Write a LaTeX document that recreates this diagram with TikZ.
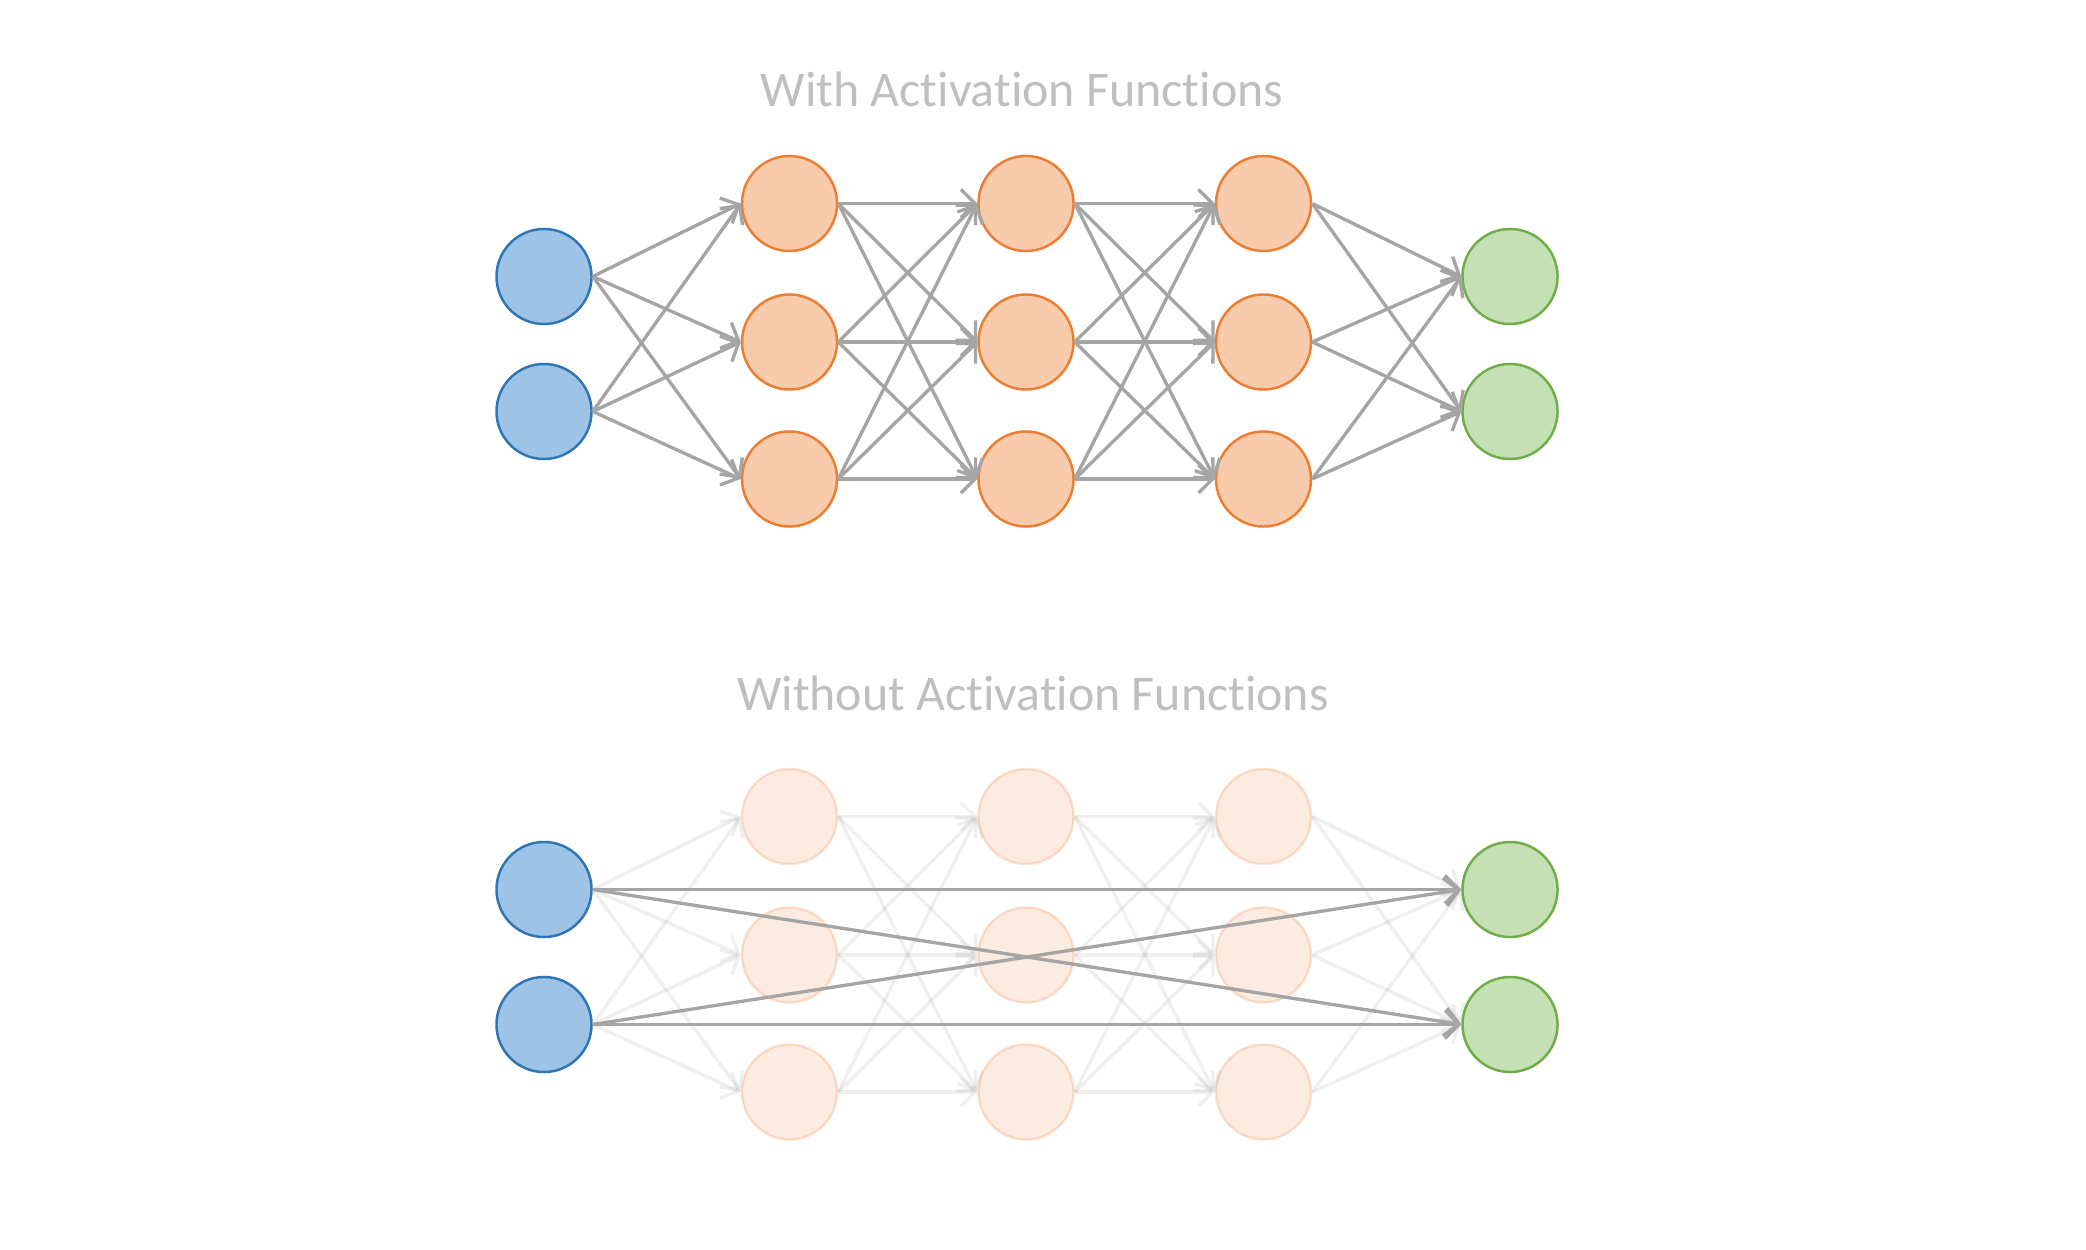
\documentclass[tikz,border=0pt]{standalone}
\usepackage{fontspec}
\newfontfamily\titlefont[Ligatures=NoCommon]{Carlito}
\usetikzlibrary{arrows.meta,positioning}
\definecolor{inblue}{HTML}{9DC3E6}
\definecolor{inblueline}{HTML}{2E75B6}
\definecolor{hidorange}{HTML}{F8CBAD}
\definecolor{hidorangeline}{HTML}{ED7D31}
\definecolor{outgreen}{HTML}{C5E0B4}
\definecolor{outgreenline}{HTML}{70AD47}
\definecolor{edgegray}{HTML}{A5A5A5}
\definecolor{titlegray}{HTML}{BFBFBF}
\newcommand{\nolig}{\kern0pt}
\tikzset{
    neuron/.style={circle, draw, minimum size=0.95cm, inner sep=0pt, line width=0.7pt},
    input/.style={neuron, fill=inblue, draw=inblueline},
    hidden/.style={neuron, fill=hidorange, draw=hidorangeline},
    output/.style={neuron, fill=outgreen, draw=outgreenline},
    faded/.style={fill opacity=0.38, draw opacity=0.22},
    line/.style={draw=edgegray, -{Straight Barb[length=4pt,width=8pt]}, line width=0.95pt},
    fadedline/.style={line, draw opacity=0.18},
    title/.style={font=\titlefont\fontsize{14.2}{17}\selectfont, text=titlegray, anchor=base}
}
\begin{document}
\begin{tikzpicture}[x=0.01cm, y=-0.01cm]
    \useasboundingbox (0,0) rectangle (2086,1249);

    % with activation functions
    \node [title] (title1) at (1022,107) {With Activat\nolig ion Funct\nolig ions};
    \foreach \i/\y in {1/276.5, 2/411.5} {
        \node [input] (tin\i) at (544,\y) {};
        \node [output] (tout\i) at (1510,\y) {};
    }
    \foreach \l/\x in {1/789.5, 2/1026, 3/1263.5}
        \foreach \j/\y in {1/203.5, 2/342, 3/479}
            \node [hidden] (th\l\j) at (\x,\y) {};

    \foreach \i in {1,2}
        \foreach \j in {1,2,3} {
            \path [line] (tin\i.east) -- (th1\j.west);
            \path [line] (th3\j.east) -- (tout\i.west);
        }
    \foreach \l/\m in {1/2, 2/3}
        \foreach \i in {1,2,3}
            \foreach \j in {1,2,3}
                \path [line] (th\l\i.east) -- (th\m\j.west);

    % without activation functions
    \node [title] (title2) at (1033,710.7) {Without Activat\nolig ion Funct\nolig ions};
    \foreach \i/\y in {1/889.5, 2/1024.5} {
        \node [input] (bin\i) at (544,\y) {};
        \node [output] (bout\i) at (1510,\y) {};
    }
    \foreach \l/\x in {1/789.5, 2/1026, 3/1263.5}
        \foreach \j/\y in {1/816.5, 2/955, 3/1092}
            \node [hidden, faded] (bh\l\j) at (\x,\y) {};

    \foreach \i in {1,2}
        \foreach \j in {1,2,3} {
            \path [fadedline] (bin\i.east) -- (bh1\j.west);
            \path [fadedline] (bh3\j.east) -- (bout\i.west);
        }
    \foreach \l/\m in {1/2, 2/3}
        \foreach \i in {1,2,3}
            \foreach \j in {1,2,3}
                \path [fadedline] (bh\l\i.east) -- (bh\m\j.west);

    \foreach \i in {1,2}
        \foreach \j in {1,2}
            \path [line] (bin\i.east) -- (bout\j.west);
\end{tikzpicture}
\end{document}
